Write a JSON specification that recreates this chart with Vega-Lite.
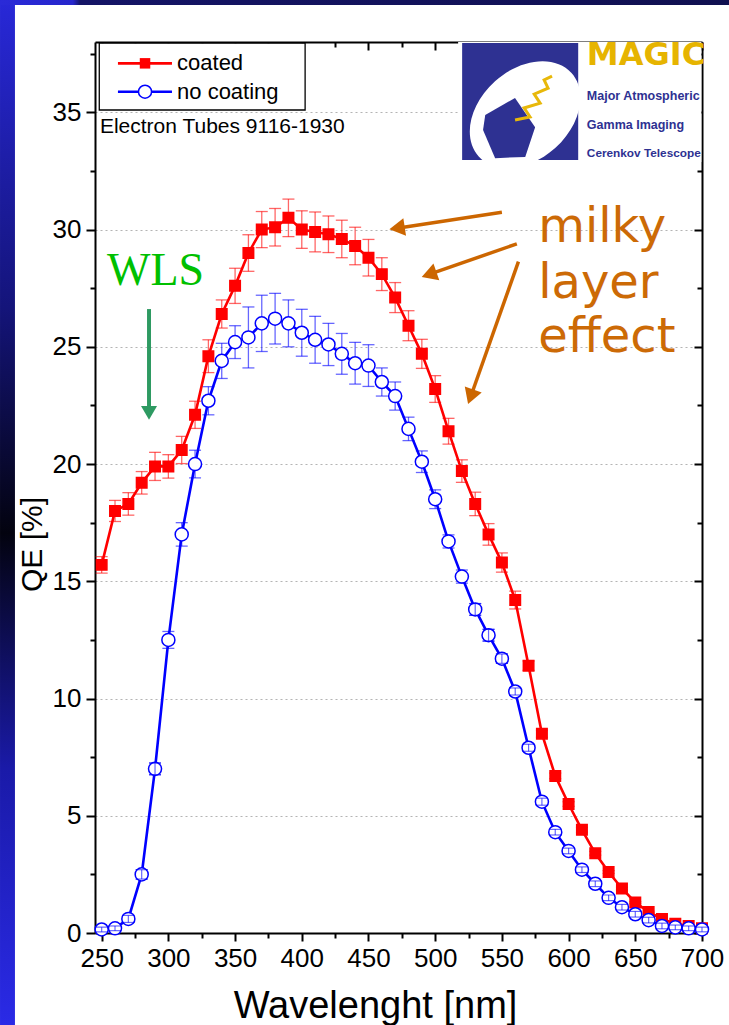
{
  "$schema": "https://vega.github.io/schema/vega-lite/v6.json",
  "width": 607,
  "height": 891,
  "autosize": {"type": "none"},
  "padding": {"left": 95, "top": 42, "right": 27, "bottom": 92},
  "background": "white",
  "config": {"view": {"stroke": null}},
  "data": {"values": [{}]},
  "datasets": {
    "qe": [
      {"series": "coated", "wavelength": 250, "qe": 15.7, "err": 0.35},
      {"series": "coated", "wavelength": 260, "qe": 18.0, "err": 0.45},
      {"series": "coated", "wavelength": 270, "qe": 18.3, "err": 0.48},
      {"series": "coated", "wavelength": 280, "qe": 19.2, "err": 0.48},
      {"series": "coated", "wavelength": 290, "qe": 19.9, "err": 0.6},
      {"series": "coated", "wavelength": 300, "qe": 19.9, "err": 0.5},
      {"series": "coated", "wavelength": 310, "qe": 20.6, "err": 0.58},
      {"series": "coated", "wavelength": 320, "qe": 22.1, "err": 0.58},
      {"series": "coated", "wavelength": 330, "qe": 24.6, "err": 0.7},
      {"series": "coated", "wavelength": 340, "qe": 26.4, "err": 0.6},
      {"series": "coated", "wavelength": 350, "qe": 27.6, "err": 0.75},
      {"series": "coated", "wavelength": 360, "qe": 29.0, "err": 0.78},
      {"series": "coated", "wavelength": 370, "qe": 30.0, "err": 0.77},
      {"series": "coated", "wavelength": 380, "qe": 30.1, "err": 0.8},
      {"series": "coated", "wavelength": 390, "qe": 30.5, "err": 0.8},
      {"series": "coated", "wavelength": 400, "qe": 30.0, "err": 0.8},
      {"series": "coated", "wavelength": 410, "qe": 29.9, "err": 0.85},
      {"series": "coated", "wavelength": 420, "qe": 29.8, "err": 0.78},
      {"series": "coated", "wavelength": 430, "qe": 29.6, "err": 0.8},
      {"series": "coated", "wavelength": 440, "qe": 29.3, "err": 0.8},
      {"series": "coated", "wavelength": 450, "qe": 28.8, "err": 0.78},
      {"series": "coated", "wavelength": 460, "qe": 28.1, "err": 0.7},
      {"series": "coated", "wavelength": 470, "qe": 27.1, "err": 0.64},
      {"series": "coated", "wavelength": 480, "qe": 25.9, "err": 0.64},
      {"series": "coated", "wavelength": 490, "qe": 24.7, "err": 0.62},
      {"series": "coated", "wavelength": 500, "qe": 23.2, "err": 0.57},
      {"series": "coated", "wavelength": 510, "qe": 21.4, "err": 0.55},
      {"series": "coated", "wavelength": 520, "qe": 19.7, "err": 0.48},
      {"series": "coated", "wavelength": 530, "qe": 18.3, "err": 0.5},
      {"series": "coated", "wavelength": 540, "qe": 17.0, "err": 0.46},
      {"series": "coated", "wavelength": 550, "qe": 15.8, "err": 0.41},
      {"series": "coated", "wavelength": 560, "qe": 14.2, "err": 0.38},
      {"series": "coated", "wavelength": 570, "qe": 11.4, "err": 0.2},
      {"series": "coated", "wavelength": 580, "qe": 8.5, "err": 0.15},
      {"series": "coated", "wavelength": 590, "qe": 6.7, "err": 0.12},
      {"series": "coated", "wavelength": 600, "qe": 5.5, "err": 0.1},
      {"series": "coated", "wavelength": 610, "qe": 4.4, "err": 0.1},
      {"series": "coated", "wavelength": 620, "qe": 3.4, "err": 0.08},
      {"series": "coated", "wavelength": 630, "qe": 2.6, "err": 0.06},
      {"series": "coated", "wavelength": 640, "qe": 1.9, "err": 0.05},
      {"series": "coated", "wavelength": 650, "qe": 1.3, "err": 0.04},
      {"series": "coated", "wavelength": 660, "qe": 0.9, "err": 0.03},
      {"series": "coated", "wavelength": 670, "qe": 0.6, "err": 0.03},
      {"series": "coated", "wavelength": 680, "qe": 0.4, "err": 0.02},
      {"series": "coated", "wavelength": 690, "qe": 0.3, "err": 0.02},
      {"series": "coated", "wavelength": 700, "qe": 0.2, "err": 0.02},
      {"series": "no coating", "wavelength": 250, "qe": 0.15, "err": 0.1},
      {"series": "no coating", "wavelength": 260, "qe": 0.2, "err": 0.1},
      {"series": "no coating", "wavelength": 270, "qe": 0.6, "err": 0.15},
      {"series": "no coating", "wavelength": 280, "qe": 2.5, "err": 0.2},
      {"series": "no coating", "wavelength": 290, "qe": 7.0, "err": 0.25},
      {"series": "no coating", "wavelength": 300, "qe": 12.5, "err": 0.36},
      {"series": "no coating", "wavelength": 310, "qe": 17.0, "err": 0.5},
      {"series": "no coating", "wavelength": 320, "qe": 20.0, "err": 0.59},
      {"series": "no coating", "wavelength": 330, "qe": 22.7, "err": 0.6},
      {"series": "no coating", "wavelength": 340, "qe": 24.4, "err": 0.75},
      {"series": "no coating", "wavelength": 350, "qe": 25.2, "err": 0.7},
      {"series": "no coating", "wavelength": 360, "qe": 25.4, "err": 1.3},
      {"series": "no coating", "wavelength": 370, "qe": 26.0, "err": 1.2},
      {"series": "no coating", "wavelength": 380, "qe": 26.2, "err": 1.08},
      {"series": "no coating", "wavelength": 390, "qe": 26.0, "err": 1.0},
      {"series": "no coating", "wavelength": 400, "qe": 25.6, "err": 1.0},
      {"series": "no coating", "wavelength": 410, "qe": 25.3, "err": 1.0},
      {"series": "no coating", "wavelength": 420, "qe": 25.1, "err": 0.9},
      {"series": "no coating", "wavelength": 430, "qe": 24.7, "err": 0.87},
      {"series": "no coating", "wavelength": 440, "qe": 24.3, "err": 0.89},
      {"series": "no coating", "wavelength": 450, "qe": 24.2, "err": 0.89},
      {"series": "no coating", "wavelength": 460, "qe": 23.5, "err": 0.6},
      {"series": "no coating", "wavelength": 470, "qe": 22.9, "err": 0.6},
      {"series": "no coating", "wavelength": 480, "qe": 21.5, "err": 0.5},
      {"series": "no coating", "wavelength": 490, "qe": 20.1, "err": 0.46},
      {"series": "no coating", "wavelength": 500, "qe": 18.5, "err": 0.4},
      {"series": "no coating", "wavelength": 510, "qe": 16.7, "err": 0.28},
      {"series": "no coating", "wavelength": 520, "qe": 15.2, "err": 0.28},
      {"series": "no coating", "wavelength": 530, "qe": 13.8, "err": 0.25},
      {"series": "no coating", "wavelength": 540, "qe": 12.7, "err": 0.25},
      {"series": "no coating", "wavelength": 550, "qe": 11.7, "err": 0.2},
      {"series": "no coating", "wavelength": 560, "qe": 10.3, "err": 0.15},
      {"series": "no coating", "wavelength": 570, "qe": 7.9, "err": 0.15},
      {"series": "no coating", "wavelength": 580, "qe": 5.6, "err": 0.15},
      {"series": "no coating", "wavelength": 590, "qe": 4.3, "err": 0.12},
      {"series": "no coating", "wavelength": 600, "qe": 3.5, "err": 0.12},
      {"series": "no coating", "wavelength": 610, "qe": 2.7, "err": 0.12},
      {"series": "no coating", "wavelength": 620, "qe": 2.1, "err": 0.12},
      {"series": "no coating", "wavelength": 630, "qe": 1.5, "err": 0.12},
      {"series": "no coating", "wavelength": 640, "qe": 1.1, "err": 0.12},
      {"series": "no coating", "wavelength": 650, "qe": 0.8, "err": 0.12},
      {"series": "no coating", "wavelength": 660, "qe": 0.55, "err": 0.12},
      {"series": "no coating", "wavelength": 670, "qe": 0.3, "err": 0.12},
      {"series": "no coating", "wavelength": 680, "qe": 0.24, "err": 0.1},
      {"series": "no coating", "wavelength": 690, "qe": 0.2, "err": 0.1},
      {"series": "no coating", "wavelength": 700, "qe": 0.15, "err": 0.1}
    ]
  },
  "resolve": {"axis": {"x": "independent", "y": "independent"}},
  "layer": [
    {
      "mark": {"type": "rect", "fill": {"gradient": "linear", "x1": 0, "y1": 0, "x2": 0, "y2": 1, "stops": [{"offset": 0, "color": "#2828d8"}, {"offset": 0.3, "color": "#14147a"}, {"offset": 0.52, "color": "#03030f"}, {"offset": 0.75, "color": "#1a1aa8"}, {"offset": 1, "color": "#2a2ae6"}]}},
      "encoding": {
        "x": {"datum": 173.8, "type": "quantitative", "scale": {"domain": [245, 700], "nice": false, "zero": false}, "axis": null},
        "x2": {"datum": 185.0},
        "y": {"datum": -3.92, "type": "quantitative", "scale": {"domain": [0, 38], "nice": false, "zero": false}, "axis": null},
        "y2": {"datum": 39.79}
      }
    },
    {
      "mark": {"type": "rect", "fill": {"gradient": "linear", "x1": 0, "y1": 0, "x2": 1, "y2": 0, "stops": [{"offset": 0, "color": "#2a2ad8"}, {"offset": 0.1, "color": "#2626cc"}, {"offset": 0.11, "color": "#141466"}, {"offset": 1, "color": "#101050"}]}},
      "encoding": {
        "x": {"datum": 173.8, "type": "quantitative", "scale": {"domain": [245, 700], "nice": false, "zero": false}, "axis": null},
        "x2": {"datum": 720.4},
        "y": {"datum": 39.58, "type": "quantitative", "scale": {"domain": [0, 38], "nice": false, "zero": false}, "axis": null},
        "y2": {"datum": 39.79}
      }
    },
    {
      "data": {"name": "qe"},
      "mark": {"type": "errorbar", "ticks": {"size": 12}, "thickness": 1.3},
      "encoding": {
        "x": {"field": "wavelength", "type": "quantitative", "scale": {"domain": [245, 700], "nice": false, "zero": false}, "axis": null},
        "y": {"field": "qe", "type": "quantitative", "scale": {"domain": [0, 38], "nice": false, "zero": false}, "axis": null},
        "yError": {"field": "err"},
        "color": {"field": "series", "type": "nominal", "scale": {"domain": ["coated", "no coating"], "range": ["#ff0000", "#0000ff"]}, "legend": null},
        "opacity": {"value": 0.6}
      }
    },
    {
      "data": {"name": "qe"},
      "mark": {"type": "line", "strokeWidth": 2.6},
      "encoding": {
        "x": {"field": "wavelength", "type": "quantitative", "scale": {"domain": [245, 700], "nice": false, "zero": false},
          "axis": {"orient": "bottom", "values": [250, 275, 300, 325, 350, 375, 400, 425, 450, 475, 500, 525, 550, 575, 600, 625, 650, 675, 700],
            "labelExpr": "datum.value % 50 == 0 ? datum.label : ''",
            "tickSize": {"condition": {"test": "datum.value % 50 == 0", "value": 8}, "value": 5},
            "grid": false, "domainColor": "black", "domainWidth": 2, "tickColor": "black", "tickWidth": 2,
            "labelFont": "Liberation Sans", "labelFontSize": 26, "labelColor": "black", "labelPadding": 4,
            "labelFlush": false, "labelOverlap": false, "labelBound": false,
            "title": "Wavelenght [nm]", "titleFont": "Liberation Sans", "titleFontSize": 38, "titleFontWeight": "normal", "titleColor": "black",
            "titleX": 280, "titleY": 84, "titleBaseline": "alphabetic", "titleAlign": "center", "titleAnchor": null}},
        "y": {"field": "qe", "type": "quantitative", "scale": {"domain": [0, 38], "nice": false, "zero": false},
          "axis": {"orient": "left", "values": [0, 2.5, 5, 7.5, 10, 12.5, 15, 17.5, 20, 22.5, 25, 27.5, 30, 32.5, 35, 37.5],
            "labelExpr": "datum.value % 5 == 0 ? datum.label : ''",
            "tickSize": {"condition": {"test": "datum.value % 5 == 0", "value": 9}, "value": 5},
            "grid": true, "gridDash": [2, 3], "gridColor": "#b4b4b4", "gridWidth": 1.2,
            "gridOpacity": {"condition": {"test": "datum.value % 5 == 0 && datum.value > 0", "value": 1}, "value": 0},
            "domainColor": "black", "domainWidth": 2, "tickColor": "black", "tickWidth": 2,
            "labelFont": "Liberation Sans", "labelFontSize": 26, "labelColor": "black", "labelPadding": 5,
            "labelOverlap": false, "labelBound": false, "labelFlush": false,
            "title": "QE [%]", "titleFont": "Liberation Sans", "titleFontSize": 30, "titleFontWeight": "normal", "titleColor": "black",
            "titleX": -63, "titleY": 502, "titleBaseline": "middle", "titleAlign": "center", "titleAnchor": null}},
        "color": {"field": "series", "type": "nominal", "scale": {"domain": ["coated", "no coating"], "range": ["#ff0000", "#0000ff"]}, "legend": null}
      }
    },
    {
      "data": {"name": "qe"},
      "mark": {"type": "point", "filled": false, "strokeWidth": 1.5, "opacity": 1},
      "encoding": {
        "x": {"field": "wavelength", "type": "quantitative", "scale": {"domain": [245, 700], "nice": false, "zero": false}, "axis": null},
        "y": {"field": "qe", "type": "quantitative", "scale": {"domain": [0, 38], "nice": false, "zero": false}, "axis": null},
        "color": {"field": "series", "type": "nominal", "scale": {"domain": ["coated", "no coating"], "range": ["#ff0000", "#0000ff"]}, "legend": null},
        "fill": {"field": "series", "type": "nominal", "scale": {"domain": ["coated", "no coating"], "range": ["#ff0000", "#ffffff"]}, "legend": null},
        "shape": {"field": "series", "type": "nominal", "scale": {"domain": ["coated", "no coating"], "range": ["square", "circle"]}, "legend": null},
        "size": {"field": "series", "type": "ordinal", "scale": {"domain": ["coated", "no coating"], "range": [110, 170]}, "legend": null}
      }
    },
    {
      "data": {"name": "qe"},
      "transform": [{"filter": "datum.series == 'no coating' && datum.err <= 0.25"}],
      "mark": {"type": "errorbar", "ticks": {"size": 12}, "thickness": 1.2},
      "encoding": {
        "x": {"field": "wavelength", "type": "quantitative", "scale": {"domain": [245, 700], "nice": false, "zero": false}, "axis": null},
        "y": {"field": "qe", "type": "quantitative", "scale": {"domain": [0, 38], "nice": false, "zero": false}, "axis": null},
        "yError": {"field": "err"},
        "color": {"field": "series", "type": "nominal", "scale": {"domain": ["coated", "no coating"], "range": ["#ff0000", "#0000ff"]}, "legend": null},
        "opacity": {"value": 0.6}
      }
    },
    {
      "mark": {"type": "rect", "fill": "white", "stroke": "black", "strokeWidth": 1.3},
      "encoding": {
        "x": {"datum": 248.2, "type": "quantitative", "scale": {"domain": [245, 700], "nice": false, "zero": false}, "axis": null},
        "x2": {"datum": 402.5},
        "y": {"datum": 35.1, "type": "quantitative", "scale": {"domain": [0, 38], "nice": false, "zero": false}, "axis": null},
        "y2": {"datum": 37.95}
      }
    },
    {
      "mark": {"type": "rule", "color": "#ff0000", "strokeWidth": 2.6},
      "encoding": {
        "x": {"datum": 262.2, "type": "quantitative", "scale": {"domain": [245, 700], "nice": false, "zero": false}, "axis": null},
        "x2": {"datum": 302.7},
        "y": {"datum": 37.09, "type": "quantitative", "scale": {"domain": [0, 38], "nice": false, "zero": false}, "axis": null}
      }
    },
    {
      "mark": {"type": "rule", "color": "#0000ff", "strokeWidth": 2.6},
      "encoding": {
        "x": {"datum": 262.2, "type": "quantitative", "scale": {"domain": [245, 700], "nice": false, "zero": false}, "axis": null},
        "x2": {"datum": 302.7},
        "y": {"datum": 35.88, "type": "quantitative", "scale": {"domain": [0, 38], "nice": false, "zero": false}, "axis": null}
      }
    },
    {
      "mark": {"type": "point", "shape": "square", "filled": true, "color": "#ff0000", "size": 110, "opacity": 1},
      "encoding": {
        "x": {"datum": 282.5, "type": "quantitative", "scale": {"domain": [245, 700], "nice": false, "zero": false}, "axis": null},
        "y": {"datum": 37.09, "type": "quantitative", "scale": {"domain": [0, 38], "nice": false, "zero": false}, "axis": null}
      }
    },
    {
      "mark": {"type": "point", "shape": "circle", "filled": false, "fill": "white", "stroke": "#0000ff", "strokeWidth": 1.5, "size": 170, "opacity": 1},
      "encoding": {
        "x": {"datum": 282.5, "type": "quantitative", "scale": {"domain": [245, 700], "nice": false, "zero": false}, "axis": null},
        "y": {"datum": 35.88, "type": "quantitative", "scale": {"domain": [0, 38], "nice": false, "zero": false}, "axis": null}
      }
    },
    {
      "mark": {"type": "text", "font": "Liberation Sans", "fontSize": 22, "color": "black", "align": "left", "baseline": "middle"},
      "encoding": {
        "x": {"datum": 306.5, "type": "quantitative", "scale": {"domain": [245, 700], "nice": false, "zero": false}, "axis": null},
        "y": {"datum": 37.09, "type": "quantitative", "scale": {"domain": [0, 38], "nice": false, "zero": false}, "axis": null},
        "text": {"value": "coated"}
      }
    },
    {
      "mark": {"type": "text", "font": "Liberation Sans", "fontSize": 22, "color": "black", "align": "left", "baseline": "middle"},
      "encoding": {
        "x": {"datum": 306.5, "type": "quantitative", "scale": {"domain": [245, 700], "nice": false, "zero": false}, "axis": null},
        "y": {"datum": 35.88, "type": "quantitative", "scale": {"domain": [0, 38], "nice": false, "zero": false}, "axis": null},
        "text": {"value": "no coating"}
      }
    },
    {
      "mark": {"type": "text", "font": "Liberation Sans", "fontSize": 21, "color": "black", "align": "left", "baseline": "middle"},
      "encoding": {
        "x": {"datum": 248.7, "type": "quantitative", "scale": {"domain": [245, 700], "nice": false, "zero": false}, "axis": null},
        "y": {"datum": 34.39, "type": "quantitative", "scale": {"domain": [0, 38], "nice": false, "zero": false}, "axis": null},
        "text": {"value": "Electron Tubes 9116-1930"}
      }
    },
    {
      "mark": {"type": "text", "font": "Liberation Serif", "fontSize": 46, "color": "#00c000", "align": "center", "baseline": "alphabetic"},
      "encoding": {
        "x": {"datum": 290.4, "type": "quantitative", "scale": {"domain": [245, 700], "nice": false, "zero": false}, "axis": null},
        "y": {"datum": 27.64, "type": "quantitative", "scale": {"domain": [0, 38], "nice": false, "zero": false}, "axis": null},
        "text": {"value": "WLS"}
      }
    },
    {
      "mark": {"type": "rule", "color": "#2e9a62", "strokeWidth": 4},
      "encoding": {
        "x": {"datum": 285.5, "type": "quantitative", "scale": {"domain": [245, 700], "nice": false, "zero": false}, "axis": null},
        "y": {"datum": 26.61, "type": "quantitative", "scale": {"domain": [0, 38], "nice": false, "zero": false}, "axis": null},
        "y2": {"datum": 22.3}
      }
    },
    {
      "mark": {"type": "point", "shape": "triangle-up", "filled": true, "color": "#2e9a62", "size": 256, "angle": 180, "opacity": 1},
      "encoding": {
        "x": {"datum": 285.5, "type": "quantitative", "scale": {"domain": [245, 700], "nice": false, "zero": false}, "axis": null},
        "y": {"datum": 22.18, "type": "quantitative", "scale": {"domain": [0, 38], "nice": false, "zero": false}, "axis": null}
      }
    },
    {
      "mark": {"type": "rule", "color": "#cc6600", "strokeWidth": 3.5},
      "encoding": {
        "x": {"datum": 550.0, "type": "quantitative", "scale": {"domain": [245, 700], "nice": false, "zero": false}, "axis": null},
        "x2": {"datum": 471.4},
        "y": {"datum": 30.74, "type": "quantitative", "scale": {"domain": [0, 38], "nice": false, "zero": false}, "axis": null},
        "y2": {"datum": 30.06}
      }
    },
    {
      "mark": {"type": "point", "shape": "triangle-up", "filled": true, "color": "#cc6600", "size": 320, "angle": 261.35, "opacity": 1},
      "encoding": {
        "x": {"datum": 471.4, "type": "quantitative", "scale": {"domain": [245, 700], "nice": false, "zero": false}, "axis": null},
        "y": {"datum": 30.06, "type": "quantitative", "scale": {"domain": [0, 38], "nice": false, "zero": false}, "axis": null}
      }
    },
    {
      "mark": {"type": "rule", "color": "#cc6600", "strokeWidth": 3.5},
      "encoding": {
        "x": {"datum": 561.2, "type": "quantitative", "scale": {"domain": [245, 700], "nice": false, "zero": false}, "axis": null},
        "x2": {"datum": 495.4},
        "y": {"datum": 29.39, "type": "quantitative", "scale": {"domain": [0, 38], "nice": false, "zero": false}, "axis": null},
        "y2": {"datum": 28.09}
      }
    },
    {
      "mark": {"type": "point", "shape": "triangle-up", "filled": true, "color": "#cc6600", "size": 320, "angle": 250.9, "opacity": 1},
      "encoding": {
        "x": {"datum": 495.4, "type": "quantitative", "scale": {"domain": [245, 700], "nice": false, "zero": false}, "axis": null},
        "y": {"datum": 28.09, "type": "quantitative", "scale": {"domain": [0, 38], "nice": false, "zero": false}, "axis": null}
      }
    },
    {
      "mark": {"type": "rule", "color": "#cc6600", "strokeWidth": 3.5},
      "encoding": {
        "x": {"datum": 562.4, "type": "quantitative", "scale": {"domain": [245, 700], "nice": false, "zero": false}, "axis": null},
        "x2": {"datum": 526.6},
        "y": {"datum": 28.63, "type": "quantitative", "scale": {"domain": [0, 38], "nice": false, "zero": false}, "axis": null},
        "y2": {"datum": 22.87}
      }
    },
    {
      "mark": {"type": "point", "shape": "triangle-up", "filled": true, "color": "#cc6600", "size": 320, "angle": 199.4, "opacity": 1},
      "encoding": {
        "x": {"datum": 526.6, "type": "quantitative", "scale": {"domain": [245, 700], "nice": false, "zero": false}, "axis": null},
        "y": {"datum": 22.87, "type": "quantitative", "scale": {"domain": [0, 38], "nice": false, "zero": false}, "axis": null}
      }
    },
    {
      "mark": {"type": "text", "font": "DejaVu Sans", "fontSize": 48, "color": "#cc6a06", "align": "left", "baseline": "alphabetic"},
      "encoding": {
        "x": {"datum": 577.2, "type": "quantitative", "scale": {"domain": [245, 700], "nice": false, "zero": false}, "axis": null},
        "y": {"datum": 29.47, "type": "quantitative", "scale": {"domain": [0, 38], "nice": false, "zero": false}, "axis": null},
        "text": {"value": "milky"}
      }
    },
    {
      "mark": {"type": "text", "font": "DejaVu Sans", "fontSize": 48, "color": "#cc6a06", "align": "left", "baseline": "alphabetic"},
      "encoding": {
        "x": {"datum": 577.2, "type": "quantitative", "scale": {"domain": [245, 700], "nice": false, "zero": false}, "axis": null},
        "y": {"datum": 27.08, "type": "quantitative", "scale": {"domain": [0, 38], "nice": false, "zero": false}, "axis": null},
        "text": {"value": "layer"}
      }
    },
    {
      "mark": {"type": "text", "font": "DejaVu Sans", "fontSize": 48, "color": "#cc6a06", "align": "left", "baseline": "alphabetic"},
      "encoding": {
        "x": {"datum": 577.2, "type": "quantitative", "scale": {"domain": [245, 700], "nice": false, "zero": false}, "axis": null},
        "y": {"datum": 24.78, "type": "quantitative", "scale": {"domain": [0, 38], "nice": false, "zero": false}, "axis": null},
        "text": {"value": "effect"}
      }
    },
    {
      "mark": {"type": "rect", "fill": "white"},
      "encoding": {
        "x": {"datum": 517.2, "type": "quantitative", "scale": {"domain": [245, 700], "nice": false, "zero": false}, "axis": null},
        "x2": {"datum": 699.5},
        "y": {"datum": 32.88, "type": "quantitative", "scale": {"domain": [0, 38], "nice": false, "zero": false}, "axis": null},
        "y2": {"datum": 38.0}
      }
    },
    {
      "mark": {"type": "rect", "fill": "#2e3192"},
      "encoding": {
        "x": {"datum": 520.2, "type": "quantitative", "scale": {"domain": [245, 700], "nice": false, "zero": false}, "axis": null},
        "x2": {"datum": 607.2},
        "y": {"datum": 32.97, "type": "quantitative", "scale": {"domain": [0, 38], "nice": false, "zero": false}, "axis": null},
        "y2": {"datum": 37.96}
      }
    },
    {
      "mark": {"type": "point", "shape": "M-1,0 A1,0.72 0 1,1 1,0 A1,0.72 0 1,1 -1,0 Z", "filled": true, "color": "white", "size": 15600, "angle": -42, "opacity": 1},
      "encoding": {
        "x": {"datum": 567.4, "type": "quantitative", "scale": {"domain": [245, 700], "nice": false, "zero": false}, "axis": null},
        "y": {"datum": 34.9, "type": "quantitative", "scale": {"domain": [0, 38], "nice": false, "zero": false}, "axis": null}
      }
    },
    {
      "mark": {"type": "point", "shape": "M-0.77,-0.45 L0.19,-1 L0.84,-0.06 L0.52,0.9 L-0.45,0.94 L-0.84,0.03 Z", "filled": true, "color": "#2e3192", "size": 3844, "opacity": 1},
      "encoding": {
        "x": {"datum": 555.4, "type": "quantitative", "scale": {"domain": [245, 700], "nice": false, "zero": false}, "axis": null},
        "y": {"datum": 34.29, "type": "quantitative", "scale": {"domain": [0, 38], "nice": false, "zero": false}, "axis": null}
      }
    },
    {
      "mark": {"type": "point", "shape": "M-0.82,1 L-0.14,0.86 L-0.41,0.45 L0.32,0.23 L0.05,-0.18 L0.68,-0.45 L0.5,-0.82 L0.86,-1", "filled": false, "color": "#e8b80a", "strokeWidth": 3, "size": 1936, "opacity": 1},
      "encoding": {
        "x": {"datum": 573.4, "type": "quantitative", "scale": {"domain": [245, 700], "nice": false, "zero": false}, "axis": null},
        "y": {"datum": 35.61, "type": "quantitative", "scale": {"domain": [0, 38], "nice": false, "zero": false}, "axis": null}
      }
    },
    {
      "mark": {"type": "text", "font": "DejaVu Sans", "fontWeight": "bold", "fontSize": 32, "color": "#e6b400", "align": "left", "baseline": "alphabetic"},
      "encoding": {
        "x": {"datum": 613.7, "type": "quantitative", "scale": {"domain": [245, 700], "nice": false, "zero": false}, "axis": null},
        "y": {"datum": 37.02, "type": "quantitative", "scale": {"domain": [0, 38], "nice": false, "zero": false}, "axis": null},
        "text": {"value": "MAGIC"}
      }
    },
    {
      "mark": {"type": "text", "font": "Liberation Sans", "fontWeight": "bold", "fontSize": 12.5, "color": "#2e3192", "align": "left", "baseline": "alphabetic"},
      "encoding": {
        "x": {"datum": 613.7, "type": "quantitative", "scale": {"domain": [245, 700], "nice": false, "zero": false}, "axis": null},
        "y": {"datum": 35.53, "type": "quantitative", "scale": {"domain": [0, 38], "nice": false, "zero": false}, "axis": null},
        "text": {"value": "Major Atmospheric"}
      }
    },
    {
      "mark": {"type": "text", "font": "Liberation Sans", "fontWeight": "bold", "fontSize": 12.5, "color": "#2e3192", "align": "left", "baseline": "alphabetic"},
      "encoding": {
        "x": {"datum": 613.7, "type": "quantitative", "scale": {"domain": [245, 700], "nice": false, "zero": false}, "axis": null},
        "y": {"datum": 34.29, "type": "quantitative", "scale": {"domain": [0, 38], "nice": false, "zero": false}, "axis": null},
        "text": {"value": "Gamma   Imaging"}
      }
    },
    {
      "mark": {"type": "text", "font": "Liberation Sans", "fontWeight": "bold", "fontSize": 11.8, "color": "#2e3192", "align": "left", "baseline": "alphabetic"},
      "encoding": {
        "x": {"datum": 613.7, "type": "quantitative", "scale": {"domain": [245, 700], "nice": false, "zero": false}, "axis": null},
        "y": {"datum": 33.10, "type": "quantitative", "scale": {"domain": [0, 38], "nice": false, "zero": false}, "axis": null},
        "text": {"value": "Cerenkov Telescope"}
      }
    },
    {
      "mark": {"type": "point", "opacity": 0},
      "encoding": {
        "x": {"datum": 300, "type": "quantitative", "scale": {"domain": [245, 700], "nice": false, "zero": false},
          "axis": {"orient": "top", "values": [250, 275, 300, 325, 350, 375, 400, 425, 450, 475, 500, 525, 550, 575, 600, 625, 650, 675, 700],
            "labels": false, "title": null, "grid": false, "domainColor": "black", "domainWidth": 2, "tickColor": "black", "tickWidth": 2,
            "tickSize": {"condition": {"test": "datum.value % 50 == 0", "value": -8}, "value": -5}}},
        "y": {"datum": 10, "type": "quantitative", "scale": {"domain": [0, 38], "nice": false, "zero": false},
          "axis": {"orient": "right", "values": [0, 2.5, 5, 7.5, 10, 12.5, 15, 17.5, 20, 22.5, 25, 27.5, 30, 32.5, 35, 37.5],
            "labels": false, "title": null, "grid": false, "domainColor": "black", "domainWidth": 2, "tickColor": "black", "tickWidth": 2,
            "tickSize": {"condition": {"test": "datum.value % 5 == 0", "value": -8}, "value": -5}}}
      }
    }
  ]
}
